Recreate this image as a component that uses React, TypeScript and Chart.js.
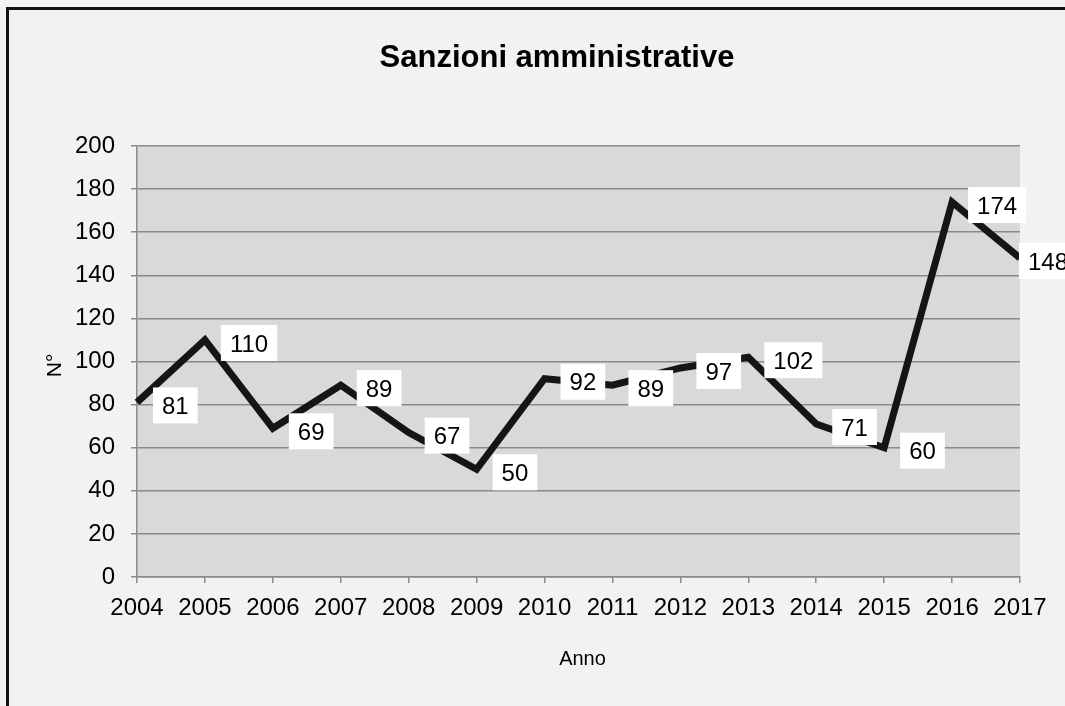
import React, { useEffect, useRef } from "react";
import { Chart, registerables } from "chart.js";

Chart.register(...registerables);

// Data
const years = ["2004", "2005", "2006", "2007", "2008", "2009", "2010", "2011", "2012", "2013", "2014", "2015", "2016", "2017"];
const sanzioni = [81, 110, 69, 89, 67, 50, 92, 89, 97, 102, 71, 60, 174, 148];
const yMin = 0;
const yMax = 200;
const yStep = 20;
const chartTitle = "Sanzioni amministrative";
const xTitle = "Anno";
const yTitle = "N°";

const FONT = "'Liberation Sans', Arial, Helvetica, sans-serif";
const CANVAS_W = 1120;
const CANVAS_H = 706;
// right edge that value labels are kept inside of
const LABEL_LIMIT = 1068;

// Plot-area fill behind the grid
const plotBackground = {
  id: "plotBackground",
  beforeDraw(chart: any) {
    const { ctx, chartArea } = chart;
    ctx.save();
    ctx.fillStyle = "#d9d9d9";
    ctx.fillRect(chartArea.left, chartArea.top, chartArea.right - chartArea.left, chartArea.bottom - chartArea.top);
    ctx.restore();
  },
};

// Value labels in white boxes to the right of each point
const valueLabels = {
  id: "valueLabels",
  afterDatasetsDraw(chart: any) {
    const { ctx } = chart;
    const meta = chart.getDatasetMeta(0);
    const data = chart.data.datasets[0].data as number[];
    ctx.save();
    ctx.font = `24px ${FONT}`;
    ctx.textAlign = "left";
    ctx.textBaseline = "alphabetic";
    meta.data.forEach((pt: any, i: number) => {
      const txt = String(data[i]);
      const w = ctx.measureText(txt).width;
      const tx = Math.min(pt.x + 25, LABEL_LIMIT - w);
      const cy = pt.y + 3;
      ctx.fillStyle = "#ffffff";
      ctx.fillRect(tx - 9, cy - 18, w + 18, 36);
      ctx.fillStyle = "#000000";
      ctx.fillText(txt, tx, cy + 8.6);
    });
    ctx.restore();
  },
};

// Chart title and axis titles
const titles = {
  id: "titles",
  afterDraw(chart: any) {
    const { ctx, chartArea } = chart;
    ctx.save();
    ctx.fillStyle = "#000000";
    ctx.textAlign = "center";
    ctx.textBaseline = "alphabetic";
    ctx.font = `bold 31px ${FONT}`;
    ctx.fillText(chartTitle, 557, 67);

    ctx.font = `20px ${FONT}`;
    ctx.fillText(xTitle, (chartArea.left + chartArea.right) / 2 + 4, 665);

    ctx.translate(53, (chartArea.top + chartArea.bottom) / 2 + 4);
    ctx.rotate(-Math.PI / 2);
    ctx.font = `21px ${FONT}`;
    ctx.fillText(yTitle, 0, 8);
    ctx.restore();
  },
};

function SanzioniChart() {
  const canvasRef = useRef<HTMLCanvasElement | null>(null);

  useEffect(() => {
    const canvas = canvasRef.current;
    if (!canvas) return;
    const chart = new Chart(canvas, {
      type: "line",
      data: {
        labels: years,
        datasets: [
          {
            data: sanzioni,
            borderColor: "#151515",
            borderWidth: 7,
            borderJoinStyle: "miter",
            borderCapStyle: "butt",
            pointRadius: 0,
            pointHoverRadius: 0,
            tension: 0,
            fill: false,
          },
        ],
      },
      options: {
        responsive: false,
        animation: false,
        devicePixelRatio: 1,
        layout: { padding: { left: 0, right: CANVAS_W - 1020, top: 146, bottom: 0 } },
        plugins: {
          legend: { display: false },
          tooltip: { enabled: false },
          title: { display: false },
        },
        scales: {
          x: {
            offset: false,
            afterFit(scale: any) {
              scale.height = CANVAS_H - 577;
            },
            grid: {
              display: true,
              drawOnChartArea: false,
              drawTicks: true,
              tickLength: 6,
              color: "#8a8a8a",
              lineWidth: 1.5,
            },
            border: { display: true, color: "#8a8a8a", width: 1.5 },
            ticks: {
              color: "#000000",
              font: { family: FONT, size: 24 },
              padding: 11,
              maxRotation: 0,
              autoSkip: false,
            },
          },
          y: {
            min: yMin,
            max: yMax,
            afterFit(scale: any) {
              scale.width = 137;
            },
            grid: {
              display: true,
              drawTicks: true,
              tickLength: 6,
              color: "#8a8a8a",
              lineWidth: 1.5,
            },
            border: { display: true, color: "#8a8a8a", width: 1.5 },
            ticks: {
              stepSize: yStep,
              color: "#000000",
              font: { family: FONT, size: 24 },
              padding: 16,
            },
          },
        },
      },
      plugins: [plotBackground, valueLabels, titles],
    });
    return () => chart.destroy();
  }, []);

  return (
    <canvas
      ref={canvasRef}
      width={CANVAS_W}
      height={CANVAS_H}
      style={{ position: "absolute", left: 0, top: 0, width: CANVAS_W, height: CANVAS_H }}
    />
  );
}

export default function App() {
  return (
    <div
      style={{
        position: "fixed",
        left: 0,
        top: 0,
        width: 1065,
        height: 706,
        overflow: "hidden",
        background: "#f2f2f2",
      }}
    >
      <div
        style={{
          position: "absolute",
          left: 6,
          top: 7,
          width: 1200,
          height: 800,
          border: "3px solid #111111",
        }}
      />
      <SanzioniChart />
    </div>
  );
}
